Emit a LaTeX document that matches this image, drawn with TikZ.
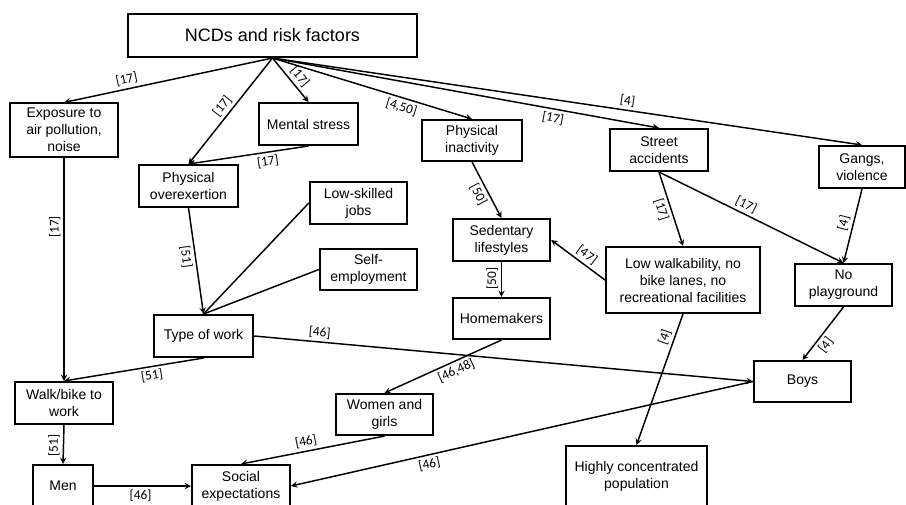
\documentclass[tikz,border=0pt]{standalone}
\usepackage{fontspec}
\usepackage{tikz}
\usetikzlibrary{arrows}
\newfontfamily\boxfamily{Liberation Sans}
\newfontfamily\reffamily{Carlito}
\newcommand{\boxfont}{\boxfamily\fontsize{10.5}{12.75}\selectfont}
\newcommand{\titlefont}{\boxfamily\fontsize{13.5}{16}\selectfont}
\newcommand{\reffont}{\reffamily\fontsize{10}{12}\selectfont}
\tikzstyle{box}=[draw, line width=1.5pt, align=center, font=\boxfont,
  minimum width=73pt, minimum height=31.5pt, inner sep=1pt]
\tikzstyle{line}=[line width=1.1pt]
\tikzstyle{arrow}=[->, >=stealth, line width=1.1pt]
\tikzstyle{ref}=[font=\reffont, inner sep=2.2pt]

\begin{document}
\begin{tikzpicture}[x=0.75pt, y=-0.75pt]
      \useasboundingbox (0,0) rectangle (906,504);

      % top row
      \node[box, font=\titlefont, minimum width=216.8pt, minimum height=32.3pt]
        (ncd) at (272.5,35.5) {NCDs and risk factors};
      \node[box, minimum width=81pt, minimum height=39.8pt] (expo) at (64,130)
        {Exposure to\\air pollution,\\noise};
      \node[box, minimum width=74.3pt] (mental) at (308.5,124) {Mental stress};
      \node[box, minimum width=75pt, minimum height=30.8pt] (inact) at (472,140.5)
        {Physical\\inactivity};
      \node[box, minimum width=73.5pt] (street) at (659,150) {Street\\accidents};
      \node[box, minimum width=64.5pt] (gangs) at (862,167) {Gangs,\\violence};

      % middle
      \node[box, minimum width=74.3pt] (overex) at (188.5,186)
        {Physical\\overexertion};
      \node[box] (lowskill) at (358.5,203) {Low-skilled\\jobs};
      \node[box, minimum height=30.8pt] (selfemp) at (368.5,269.5)
        {Self-\\employment};
      \node[box] (seden) at (501.5,240) {Sedentary\\lifestyles};
      \node[box, minimum height=30.8pt] (homem) at (501.5,318.5) {Homemakers};
      \node[box, minimum width=115.5pt, minimum height=49.5pt] (lowwalk) at (683,280)
        {Low walkability, no\\bike lanes, no\\recreational facilities};
      \node[box] (noplay) at (843.5,285) {No\\playground};
      \node[box, minimum width=74.3pt] (typework) at (203.5,336) {Type of work};
      \node[box, minimum height=30.8pt] (boys) at (802.5,381.5) {Boys};

      % bottom
      \node[box, minimum width=73.5pt] (walkbike) at (64,403) {Walk/bike to\\work};
      \node[box, minimum height=30.8pt] (women) at (384.5,414.5) {Women and\\girls};
      \node[box, minimum width=45pt] (men) at (63,486) {Men};
      \node[box, minimum width=73.5pt] (social) at (241,486) {Social\\expectations};
      \node[box, minimum width=105.8pt, minimum height=45.8pt] (highly) at (636.5,476.5)
        {Highly concentrated\\population};

      \foreach \t/\p/\side/\l in {expo/0.69/above/17, overex/0.51/above/17,
        mental/0.56/above/17, street/0.73/below/17, gangs/0.6/above/4}{
        \draw[arrow] (ncd.south) -- node[ref, pos=\p, sloped, \side] {[\l]} (\t.north);
      }
      \draw[arrow] (ncd.south) -- node[ref, pos=0.66, sloped, below] {[4,50]} (inact.north);

      \draw[arrow] (mental.south) -- node[ref, pos=0.35, sloped, below] {[17]} (overex.north);
      \draw[arrow] (expo.south) -- node[ref, pos=0.31, rotate=90, above] {[17]} (walkbike.north);
      \draw[arrow] (overex.south) -- node[ref, pos=0.45, sloped, below] {[51]} (typework.north);
      \draw[line] (lowskill.west) -- (typework.north);
      \draw[line] (selfemp.west) -- (typework.north);
      \draw[arrow] (typework.south) -- node[ref, pos=0.38, sloped, below] {[51]} (walkbike.north);
      \draw[arrow] (typework.east) -- node[ref, pos=0.13, sloped, above] {[46]} (boys.west);

      \draw[arrow] (inact.south) -- node[ref, pos=0.5, sloped, below] {[50]} (seden.north);
      \draw[arrow] (seden.south) -- node[ref, pos=0.47, rotate=90, above] {[50]} (homem.north);
      \draw[arrow] (lowwalk.west) -- node[ref, pos=0.44, sloped, above] {[47]} (seden.east);
      \draw[arrow] (street.south) -- node[ref, pos=0.47, sloped, below] {[17]} (lowwalk.north);
      \draw[arrow] (street.south) -- node[ref, pos=0.45, sloped, above] {[17]} (noplay.north);
      \draw[arrow] (gangs.south) -- node[ref, pos=0.49, sloped, above] {[4]} (noplay.north);
      \draw[arrow] (noplay.south) -- node[ref, pos=0.61, sloped, below] {[4]} (boys.north);
      \draw[arrow] (lowwalk.south) -- node[ref, pos=0.2, sloped, above] {[4]} (highly.north);

      \draw[arrow] (homem.south) -- node[ref, pos=0.42, sloped, below] {[46,48]} (women.north);
      \draw[arrow] (boys.west) -- node[ref, pos=0.705, sloped, below] {[46]} (social.east);
      \draw[arrow] (women.south) -- node[ref, pos=0.535, sloped, above] {[46]} (social.north);
      \draw[arrow] (walkbike.south) -- node[ref, pos=0.53, rotate=90, above] {[51]} (men.north);
      \draw[arrow] (men.east) -- node[ref, pos=0.48, below] {[46]} (social.west);
\end{tikzpicture}
\end{document}
